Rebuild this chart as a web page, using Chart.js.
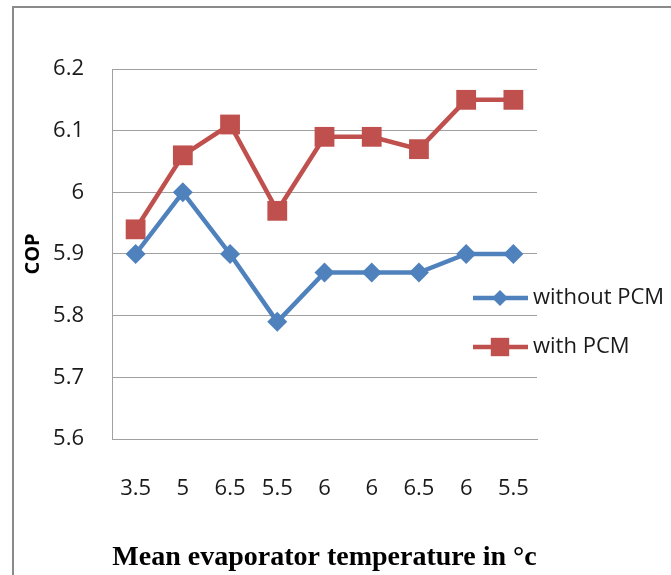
<!DOCTYPE html>
<html>
<head>
<meta charset="utf-8">
<script src="https://cdn.jsdelivr.net/npm/chart.js@4.4.0/dist/chart.umd.min.js"></script>
<style>
  html, body { margin: 0; padding: 0; background: #fff; }
  #wrap { width: 671px; height: 575px; position: relative; }
</style>
</head>
<body>
<div id="wrap"><canvas id="cop-chart"></canvas></div>
<script>
// ============================================================
// COP vs mean evaporator temperature
// ============================================================

const categories = ['3.5', '5', '6.5', '5.5', '6', '6', '6.5', '6', '5.5'];
const withoutPCM = [5.90, 6.00, 5.90, 5.79, 5.87, 5.87, 5.87, 5.90, 5.90];
const withPCM = [5.94, 6.06, 6.11, 5.97, 6.09, 6.09, 6.07, 6.15, 6.15];
const yMin = 5.6, yMax = 6.2, yStep = 0.1;

const BLUE = '#4f81bd';
const RED = '#c0504d';
const GRID = '#a0a0a0';
const TEXT = '#1a1a1a';
const TICK_FONT = { family: 'Open Sans', size: 22 };

// outer frame + white background
const framePlugin = {
  id: 'frame',
  beforeDraw(chart) {
    const ctx = chart.ctx;
    ctx.save();
    ctx.fillStyle = '#fff';
    ctx.fillRect(0, 0, chart.width, chart.height);
    ctx.strokeStyle = '#8a8a8a';
    ctx.lineWidth = 2;
    ctx.strokeRect(13, 7, chart.width + 20, chart.height + 20);
    ctx.restore();
  }
};

// legend drawn over the right edge of the plot, like the original
const sideLegend = {
  id: 'sideLegend',
  afterDraw(chart) {
    const ctx = chart.ctx;
    const rows = [
      { ds: chart.data.datasets[0], y: 298, r: 8 },
      { ds: chart.data.datasets[1], y: 347, r: 13 },
    ];
    ctx.save();
    rows.forEach(row => {
      const ds = row.ds;
      ctx.strokeStyle = ds.borderColor;
      ctx.lineWidth = ds.borderWidth;
      ctx.beginPath();
      ctx.moveTo(473, row.y);
      ctx.lineTo(528, row.y);
      ctx.stroke();
      ctx.fillStyle = ds.borderColor;
      Chart.helpers.drawPoint(ctx, { pointStyle: ds.pointStyle, radius: row.r, rotation: 0, borderWidth: 0 }, 500, row.y);
      ctx.fillStyle = TEXT;
      ctx.font = `${TICK_FONT.size}px "${TICK_FONT.family}"`;
      ctx.textAlign = 'left';
      ctx.textBaseline = 'middle';
      ctx.fillText(ds.label, 533, row.y);
    });
    ctx.restore();
  }
};

new Chart(document.getElementById('cop-chart'), {
  type: 'line',
  data: {
    labels: categories,
    datasets: [{
      label: 'without PCM',
      data: withoutPCM,
      borderColor: BLUE,
      backgroundColor: BLUE,
      borderWidth: 4.5,
      pointStyle: 'rectRot',
      pointRadius: 10,
      pointBackgroundColor: BLUE,
      pointBorderWidth: 0,
      tension: 0,
    }, {
      label: 'with PCM',
      data: withPCM,
      borderColor: RED,
      backgroundColor: RED,
      borderWidth: 4.5,
      pointStyle: 'rect',
      pointRadius: 14,
      pointBackgroundColor: RED,
      pointBorderWidth: 0,
      tension: 0,
    }]
  },
  options: {
    responsive: true,
    maintainAspectRatio: false,
    animation: false,
    layout: { padding: { top: 69, right: 134, left: 0, bottom: 0 } },
    plugins: { legend: { display: false }, tooltip: { enabled: false } },
    scales: {
      x: {
        offset: true,
        grid: { display: false },
        border: { display: true, color: GRID, width: 1 },
        ticks: { color: TEXT, font: TICK_FONT, padding: 29, maxRotation: 0, autoSkip: false },
        title: {
          display: true,
          text: 'Mean evaporator temperature in °c',
          color: '#000',
          font: { family: 'Liberation Serif', size: 28, weight: 'bold' },
          padding: { top: 0, bottom: 0 },
        },
        afterFit: s => { s.height = 136; },
      },
      y: {
        min: yMin,
        max: yMax,
        grid: { color: GRID, lineWidth: 1, drawTicks: false },
        border: { display: true, color: GRID, width: 1 },
        ticks: {
          stepSize: yStep,
          color: TEXT,
          font: TICK_FONT,
          padding: 28,
          callback: v => String(Number(v.toFixed(1))),
        },
        title: {
          display: true,
          text: 'COP',
          color: '#000',
          font: { family: 'Open Sans', size: 20, weight: 'bold' },
          padding: { top: 21, bottom: 0 },
        },
        afterFit: s => { s.width = 112; },
      }
    }
  },
  plugins: [framePlugin, sideLegend]
});
</script>
</body>
</html>
